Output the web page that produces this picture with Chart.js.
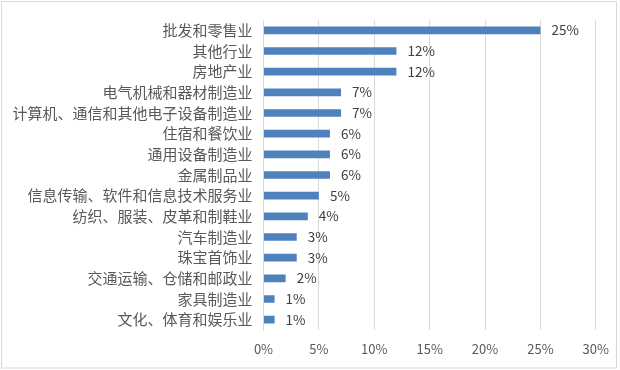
<!DOCTYPE html>
<html>
<head>
<meta charset="utf-8">
<script src="https://cdn.jsdelivr.net/npm/chart.js@4"></script>
<style>
  html, body { margin: 0; padding: 0; background: #fff; }
  #wrap { width: 620px; height: 370px; }
</style>
</head>
<body>
<div id="wrap"><canvas id="industry_chart" width="620" height="370"></canvas></div>
<script>
// 행업 분포
const categories = [
  '批发和零售业', '其他行业', '房地产业', '电气机械和器材制造业',
  '计算机、通信和其他电子设备制造业', '住宿和餐饮业', '通用设备制造业', '金属制品业',
  '信息传输、软件和信息技术服务业', '纺织、服装、皮革和制鞋业', '汽车制造业', '珠宝首饰业',
  '交通运输、仓储和邮政业', '家具制造业', '文化、体育和娱乐业'
];
const shares = [25, 12, 12, 7, 7, 6, 6, 6, 5, 4, 3, 3, 2, 1, 1];
const xTicks = [0, 5, 10, 15, 20, 25, 30];

const cjk = '"Noto Sans CJK SC", "Noto Sans", sans-serif';

// 막대 끝에 값 표시
const valueLabels = {
  id: 'valueLabels',
  afterDatasetsDraw(chart) {
    const ctx = chart.ctx;
    const meta = chart.getDatasetMeta(0);
    ctx.save();
    ctx.font = '13.5px ' + cjk;
    ctx.fillStyle = '#404040';
    ctx.textAlign = 'left';
    ctx.textBaseline = 'middle';
    meta.data.forEach((bar, i) => {
      ctx.fillText(shares[i] + '%', bar.x + 11, bar.y);
    });
    ctx.restore();
  }
};

// 바깥 테두리
const outerBorder = {
  id: 'outerBorder',
  afterDraw(chart) {
    const ctx = chart.ctx;
    ctx.save();
    ctx.strokeStyle = '#d9d9d9';
    ctx.lineWidth = 1;
    ctx.strokeRect(1.5, 1.5, 615, 366.5);
    ctx.restore();
  }
};

new Chart(document.getElementById('industry_chart'), {
  type: 'bar',
  data: {
    labels: categories,
    datasets: [{
      data: shares,
      backgroundColor: '#4F81BD',
      categoryPercentage: 1,
      barPercentage: 0.37
    }]
  },
  options: {
    indexAxis: 'y',
    responsive: false,
    animation: false,
    layout: { padding: { top: 19, right: 22, left: 0, bottom: 0 } },
    plugins: { legend: { display: false }, tooltip: { enabled: false } },
    scales: {
      x: {
        min: 0,
        max: 30,
        afterBuildTicks(axis) { axis.ticks = xTicks.map(v => ({ value: v })); },
        afterFit(axis) { axis.height = 40; },
        grid: { color: '#d9d9d9', drawTicks: false },
        border: { display: false },
        ticks: {
          padding: 11,
          color: '#595959',
          font: { size: 13, family: cjk },
          callback: v => v + '%'
        }
      },
      y: {
        afterFit(axis) { axis.width = 263.5; },
        grid: { display: false, drawTicks: false },
        border: { display: true, color: '#d9d9d9' },
        ticks: {
          padding: 11,
          color: '#595959',
          font: { size: 15, family: cjk },
          autoSkip: false
        }
      }
    }
  },
  plugins: [valueLabels, outerBorder]
});
</script>
</body>
</html>
